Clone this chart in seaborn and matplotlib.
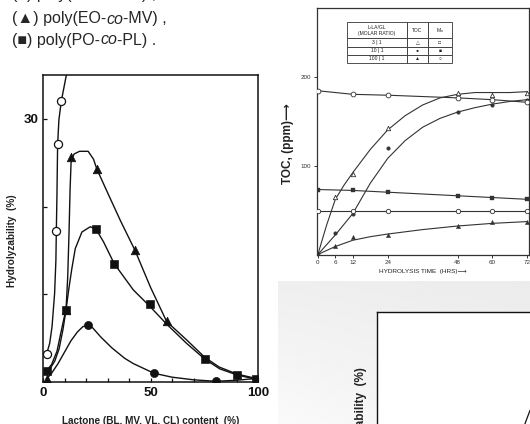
import numpy as np
import matplotlib.pyplot as plt
import seaborn as sns

# --- left panel: hydrolyzability vs lactone content ---
oc_x = [1.7, 6.2, 6.8, 8.5]
oc_y = [3.2, 17.2, 27.1, 32.0]
oc_curve_x = [1.7, 3.1, 4.2, 5.4, 6.0, 6.2, 6.5, 6.8, 7.4, 8.5, 11.1]
oc_curve_y = [3.2, 4.4, 6.3, 10.1, 13.9, 17.2, 21.5, 27.1, 29.9, 32.0, 35.3]

tri_x = [1.7, 10.7, 13.1, 25.0, 42.8, 57.5]
tri_y = [0.35, 8.2, 25.7, 24.3, 15.0, 6.9]
tri_curve_x = [1.7, 4.0, 6.5, 8.3, 9.7, 10.7, 11.5, 12.1, 12.6, 13.1, 14.5, 17.0,
               21.0, 23.5, 25.0, 30.0, 36.0, 42.8, 50.0, 57.5, 66.8, 75.3, 82.0, 90.3, 99.2]
tri_curve_y = [1.3, 2.0, 3.5, 5.6, 7.2, 8.2, 12.0, 17.0, 22.0, 25.3, 26.0, 26.3,
               26.3, 25.4, 24.3, 21.6, 18.4, 15.0, 10.8, 6.9, 4.8, 2.8, 1.7, 0.9, 0.4]

sq_x = [1.7, 10.7, 24.7, 33.1, 49.8, 75.3, 90.3, 99.2]
sq_y = [1.25, 8.2, 17.4, 13.5, 8.9, 2.6, 0.8, 0.3]
sq_curve_x = [1.7, 3.5, 5.5, 7.5, 9.3, 10.7, 12.0, 13.4, 15.0, 18.1, 22.0, 24.7,
              28.1, 33.1, 42.0, 49.8, 57.5, 66.8, 75.3, 82.2, 90.3, 99.2]
sq_curve_y = [1.2, 1.6, 2.4, 3.8, 6.0, 8.2, 10.6, 12.9, 15.2, 17.1, 17.7, 17.4,
              16.0, 13.5, 10.5, 8.6, 6.6, 4.4, 2.6, 1.5, 0.8, 0.3]

fc_x = [20.7, 51.6, 80.4]
fc_y = [6.5, 1.0, 0.1]
fc_curve_x = [1.7, 4, 7, 10, 13, 16, 18.5, 20.7, 23, 27, 32, 38, 42, 51.6, 60, 70, 80.4, 90, 99.2]
fc_curve_y = [0.35, 1.0, 2.1, 3.4, 4.7, 5.7, 6.3, 6.5, 6.2, 5.1, 3.9, 2.7, 2.1, 1.0, 0.55, 0.25, 0.08, 0.2, 0.4]

# --- top right panel: TOC vs hydrolysis time ---
hours = [0, 6, 12, 24, 48, 60, 72]
toc_3 = [0, 65, 90, 142, 182, 179, 182]
toc_10 = [0, 24, 46, 120, 160, 168, 174]
toc_100 = [0, 10, 19.5, 22, 31.5, 37, 37]
toc3_cx = [0, 3, 6, 9, 12, 18, 24, 30, 36, 42, 48, 54, 60, 66, 72]
toc3_cy = [0, 33, 62, 78, 92, 118, 140, 156, 168, 176, 180, 182, 182, 182, 183]
toc10_cx = [0, 6, 12, 18, 24, 30, 36, 42, 48, 54, 60, 66, 72]
toc10_cy = [0, 22, 46, 80, 108, 128, 143, 153, 160, 165, 169, 172, 174]
toc100_cx = [0, 6, 12, 18, 24, 36, 48, 60, 72]
toc100_cy = [0, 9, 16, 20, 23, 28, 32, 35, 37]
mn_hours = [0, 12, 24, 48, 60, 72]
mn_100 = [184, 180, 179, 176, 174, 171]
mn_10 = [73, 72, 70, 66, 64, 62]
mn_3 = [49, 49, 49, 49, 49, 49]
table_rows = [["L-LA/GL\n(MOLAR RATIO)", "TOC", "M$_n$"],
              ["3 | 1", "△", "□"],
              ["10 | 1", "●", "■"],
              ["100 | 1", "▲", "○"]]

# --- bottom right panel: only a sliver of a curve is visible ---
frag_x = [68.6, 69.8, 71.2]
frag_y = [22.1, 22.9, 23.8]

sns.set_style("white")
plt.rcParams["font.family"] = ["Liberation Sans", "DejaVu Sans"]

W, H = 530, 424
fig = plt.figure(figsize=(W / 100, H / 100), dpi=100)


def box(l, t, r, b):
    return [l / W, 1 - b / H, (r - l) / W, (b - t) / H]


# caption fragments at top (first line is cut by the crop)
bg = fig.add_axes([0, 0, 1, 1])
bg.axis("off")
cap = [("(○) poly(EO-", "co", "-BL) ,", 1 + 6 / H),
       ("(▲) poly(EO-", "co", "-MV) ,", 1 - 19 / H),
       ("(■) poly(PO-", "co", "-PL) .", 1 - 40 / H)]
for a, b, c, y in cap:
    t1 = bg.text(12 / W, y, a, fontsize=11.5, va="center", ha="left", transform=bg.transAxes)
    t2 = bg.annotate(b, xy=(1, 0), xycoords=t1, va="bottom", ha="left", fontsize=11.5, style="italic")
    bg.annotate(c, xy=(1, 0), xycoords=t2, va="bottom", ha="left", fontsize=11.5)

# gray backdrop of the lower right scan
gr = fig.add_axes(box(278, 281, 530, 424))
gy, gx = np.mgrid[0:1:60j, 0:1:80j]
grad = 0.925 + 0.045 * gy * (1 - 0.6 * gx) + 0.01 * (1 - gx)
gr.imshow(grad, cmap="gray", vmin=0, vmax=1, aspect="auto")
gr.axis("off")

# ---------------- left panel ----------------
ax = fig.add_axes(box(43, 75, 258, 382))
ink = "#111111"
for cx, cy in [(oc_curve_x, oc_curve_y), (tri_curve_x, tri_curve_y),
               (sq_curve_x, sq_curve_y), (fc_curve_x, fc_curve_y)]:
    sns.lineplot(x=cx, y=cy, sort=False, estimator=None, color=ink, lw=1.0, ax=ax)
sns.scatterplot(x=oc_x, y=oc_y, marker="o", s=34, color="white", edgecolor=ink, linewidth=0.9, ax=ax, zorder=4)
sns.scatterplot(x=tri_x, y=tri_y, marker="^", s=38, color=ink, edgecolor=ink, ax=ax, zorder=4)
sns.scatterplot(x=sq_x, y=sq_y, marker="s", s=32, color=ink, edgecolor=ink, ax=ax, zorder=4)
sns.scatterplot(x=fc_x, y=fc_y, marker="o", s=34, color=ink, edgecolor=ink, ax=ax, zorder=4)
ax.set_xlim(0, 100)
ax.set_ylim(0, 35)
ax.set_xticks([0, 50, 100])
ax.set_xticks(range(10, 100, 10), minor=True)
ax.set_yticks([10, 20, 30])
ax.set_yticklabels(["", "", "30"])
ax.tick_params(axis="both", which="both", direction="in", length=3, width=0.9, colors=ink,
               labelsize=9.5, bottom=True, left=True)
for lab in ax.get_xticklabels() + ax.get_yticklabels():
    lab.set_fontweight("bold")
for sp in ax.spines.values():
    sp.set_color(ink)
    sp.set_linewidth(1.1)
ax.set_xlabel("Lactone (BL, MV, VL, CL) content  (%)", fontsize=7.2, fontweight="bold", color="#222222")
ax.xaxis.set_label_coords(0.5, -0.11)
ax.set_ylabel("Hydrolyzability  (%)", fontsize=7.2, fontweight="bold", color="#222222")
ax.yaxis.set_label_coords(-0.12, 0.46)

# ---------------- top right panel ----------------
ax2 = fig.add_axes(box(317, 8, 528.5, 254.5))
ink2 = "#333333"
for cx, cy in [(toc3_cx, toc3_cy), (toc10_cx, toc10_cy), (toc100_cx, toc100_cy)]:
    sns.lineplot(x=cx, y=cy, sort=False, estimator=None, color=ink2, lw=0.8, ax=ax2)
for yy in [mn_100, mn_10, mn_3]:
    sns.lineplot(x=mn_hours, y=yy, sort=False, estimator=None, color=ink2, lw=0.8, ax=ax2)
sns.scatterplot(x=hours, y=toc_3, marker="^", s=10, color="white", edgecolor=ink2, linewidth=0.6, ax=ax2, zorder=4)
sns.scatterplot(x=hours, y=toc_10, marker="o", s=7, color=ink2, edgecolor=ink2, ax=ax2, zorder=4)
sns.scatterplot(x=hours, y=toc_100, marker="^", s=10, color=ink2, edgecolor=ink2, ax=ax2, zorder=4)
sns.scatterplot(x=mn_hours, y=mn_100, marker="o", s=12, color="white", edgecolor=ink2, linewidth=0.6, ax=ax2, zorder=4)
sns.scatterplot(x=mn_hours, y=mn_10, marker="s", s=10, color=ink2, edgecolor=ink2, ax=ax2, zorder=4)
sns.scatterplot(x=mn_hours, y=mn_3, marker="o", s=10, color="white", edgecolor=ink2, linewidth=0.6, ax=ax2, zorder=4)
ax2.set_xlim(-0.3, 72.4)
ax2.set_ylim(0, 277)
ax2.set_xticks(hours)
ax2.set_yticks([100, 200])
ax2.tick_params(axis="both", direction="out", length=2.5, width=0.7, colors=ink2, labelsize=4.5,
                bottom=True, left=True, pad=1.5)
for sp in ax2.spines.values():
    sp.set_color(ink2)
    sp.set_linewidth(0.9)
ax2.set_ylabel("TOC, (ppm)⟶", fontsize=8.5, fontweight="bold", color="#222222")
ax2.yaxis.set_label_coords(-0.11, 0.45)
ax2.set_xlabel("HYDROLYSIS TIME  (HRS)⟶", fontsize=4.6, color="#222222")
ax2.xaxis.set_label_coords(0.5, -0.06)
tbl = ax2.table(cellText=table_rows, bbox=[0.142, 0.777, 0.496, 0.166],
                cellLoc="center", colWidths=[0.571, 0.2, 0.229])
tbl.auto_set_font_size(False)
tbl.set_fontsize(3.6)
for (r, c), cell in tbl.get_celld().items():
    cell.set_linewidth(0.6)
    cell.set_edgecolor(ink2)
    cell.set_height(2 if r == 0 else 1)
    cell.get_text().set_color("#222222")

# ---------------- bottom right panel (cut off) ----------------
ax3 = fig.add_axes(box(377, 312, 592, 619))
sns.lineplot(x=frag_x, y=frag_y, sort=False, estimator=None, color=ink, lw=0.9, ax=ax3)
ax3.set_xlim(0, 100)
ax3.set_ylim(0, 35)
ax3.set_xticks([])
ax3.set_yticks([])
for sp in ax3.spines.values():
    sp.set_color(ink)
    sp.set_linewidth(1.0)
ax3.set_ylabel("Hydrolyzability  (%)", fontsize=8.5, fontweight="bold", color="#222222")
ax3.yaxis.set_label_coords(-0.045, 0.643)

fig.savefig("out.png", dpi=100)
